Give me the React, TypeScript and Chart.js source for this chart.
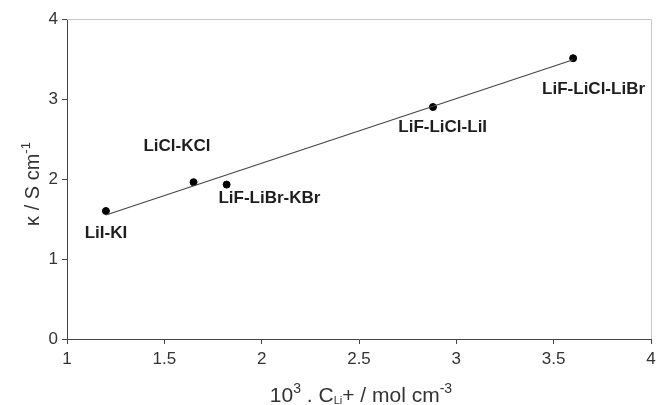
import React, { useEffect, useRef } from "react";
import { Chart, registerables } from "chart.js";

Chart.register(...registerables);

const saltNames = ["LiI-KI", "LiCl-KCl", "LiF-LiBr-KBr", "LiF-LiCl-LiI", "LiF-LiCl-LiBr"];
const concentration = [1.2, 1.65, 1.82, 2.88, 3.6];
const conductivity = [1.6, 1.96, 1.93, 2.9, 3.51];
const labelX = [1.2, 1.565, 2.04, 2.93, 3.705];
const labelY = [1.32, 2.41, 1.76, 2.64, 3.115];
const trendX = [1.2, 3.6];
const trendY = [1.55, 3.49];
const xTicks = [1, 1.5, 2, 2.5, 3, 3.5, 4];
const yTicks = [0, 1, 2, 3, 4];

type Part = { t: string; dy?: number; size?: number };

const FAM = '"Liberation Sans", Arial, sans-serif';

function drawRich(ctx: CanvasRenderingContext2D, parts: Part[], cx: number, cy: number, base: number) {
  let total = 0;
  for (const p of parts) {
    ctx.font = `${p.size ?? base}px ${FAM}`;
    total += ctx.measureText(p.t).width;
  }
  let x = cx - total / 2;
  for (const p of parts) {
    ctx.font = `${p.size ?? base}px ${FAM}`;
    ctx.textAlign = "left";
    ctx.textBaseline = "middle";
    ctx.fillText(p.t, x, cy + (p.dy ?? 0));
    x += ctx.measureText(p.t).width;
  }
}

const decorPlugin = {
  id: "decor",
  beforeDatasetsDraw(chart: any) {
    const { ctx, chartArea } = chart;
    ctx.save();
    ctx.strokeStyle = "#c8c8c8";
    ctx.lineWidth = 1;
    ctx.beginPath();
    ctx.moveTo(chartArea.left, chartArea.top + 0.5);
    ctx.lineTo(chartArea.right + 0.5, chartArea.top + 0.5);
    ctx.lineTo(chartArea.right + 0.5, chartArea.bottom);
    ctx.stroke();
    ctx.restore();
  },
  afterDraw(chart: any) {
    const { ctx, chartArea, scales } = chart;
    ctx.save();
    ctx.fillStyle = "#1e1e1e";
    ctx.font = `bold 17px ${FAM}`;
    ctx.textAlign = "center";
    ctx.textBaseline = "middle";
    saltNames.forEach((n, i) => {
      ctx.fillText(n, scales.x.getPixelForValue(labelX[i]), scales.y.getPixelForValue(labelY[i]));
    });
    ctx.fillStyle = "#333";
    drawRich(
      ctx,
      [
        { t: "10" },
        { t: "3", dy: -7, size: 14 },
        { t: " . C" },
        { t: "Li", dy: 5, size: 11 },
        { t: "+ / mol cm" },
        { t: "-3", dy: -7, size: 14 },
      ],
      (chartArea.left + chartArea.right) / 2 + 2,
      chartArea.bottom + 57,
      21
    );
    ctx.save();
    ctx.translate(33, (chartArea.top + chartArea.bottom) / 2 + 5);
    ctx.rotate(-Math.PI / 2);
    drawRich(ctx, [{ t: "κ / S cm" }, { t: "-1", dy: -7, size: 13 }], 0, 0, 20);
    ctx.restore();
    ctx.restore();
  },
};

export default function App() {
  const ref = useRef<HTMLCanvasElement>(null);
  useEffect(() => {
    if (!ref.current) return;
    const tickFont = { size: 17, family: FAM };
    const chart = new Chart(ref.current, {
      type: "scatter",
      data: {
        datasets: [
          {
            type: "line",
            data: trendX.map((x, i) => ({ x, y: trendY[i] })),
            borderColor: "#444",
            borderWidth: 1.2,
            pointRadius: 0,
            fill: false,
          },
          {
            data: concentration.map((x, i) => ({ x, y: conductivity[i] })),
            backgroundColor: "#000",
            borderColor: "#000",
            pointRadius: 3.5,
          },
        ],
      } as any,
      options: {
        animation: false,
        responsive: true,
        maintainAspectRatio: false,
        layout: { padding: { left: 0, top: 19, right: 15, bottom: 0 } },
        plugins: { legend: { display: false }, tooltip: { enabled: false } },
        scales: {
          x: {
            type: "linear",
            min: 1,
            max: 4,
            afterFit: (s: any) => {
              s.height = 66;
            },
            afterBuildTicks: (s: any) => {
              s.ticks = xTicks.map((v) => ({ value: v }));
            },
            ticks: {
              color: "#333",
              font: tickFont,
              padding: 5,
              maxRotation: 0,
              callback: (v: any) => String(v),
            },
            grid: { drawOnChartArea: false, drawTicks: true, tickLength: 5, color: "#444" },
            border: { display: true, color: "#444", width: 1 },
          },
          y: {
            type: "linear",
            min: 0,
            max: 4,
            afterFit: (s: any) => {
              s.width = 67;
            },
            afterBuildTicks: (s: any) => {
              s.ticks = yTicks.map((v) => ({ value: v }));
            },
            ticks: {
              color: "#333",
              font: tickFont,
              padding: 4,
              callback: (v: any) => String(v),
            },
            grid: { drawOnChartArea: false, drawTicks: true, tickLength: 5, color: "#444" },
            border: { display: true, color: "#444", width: 1 },
          },
        },
      } as any,
      plugins: [decorPlugin],
    });
    return () => chart.destroy();
  }, []);
  return (
    <div style={{ position: "fixed", left: 0, top: 0, width: 666, height: 405, background: "#fff" }}>
      <canvas ref={ref} />
    </div>
  );
}
